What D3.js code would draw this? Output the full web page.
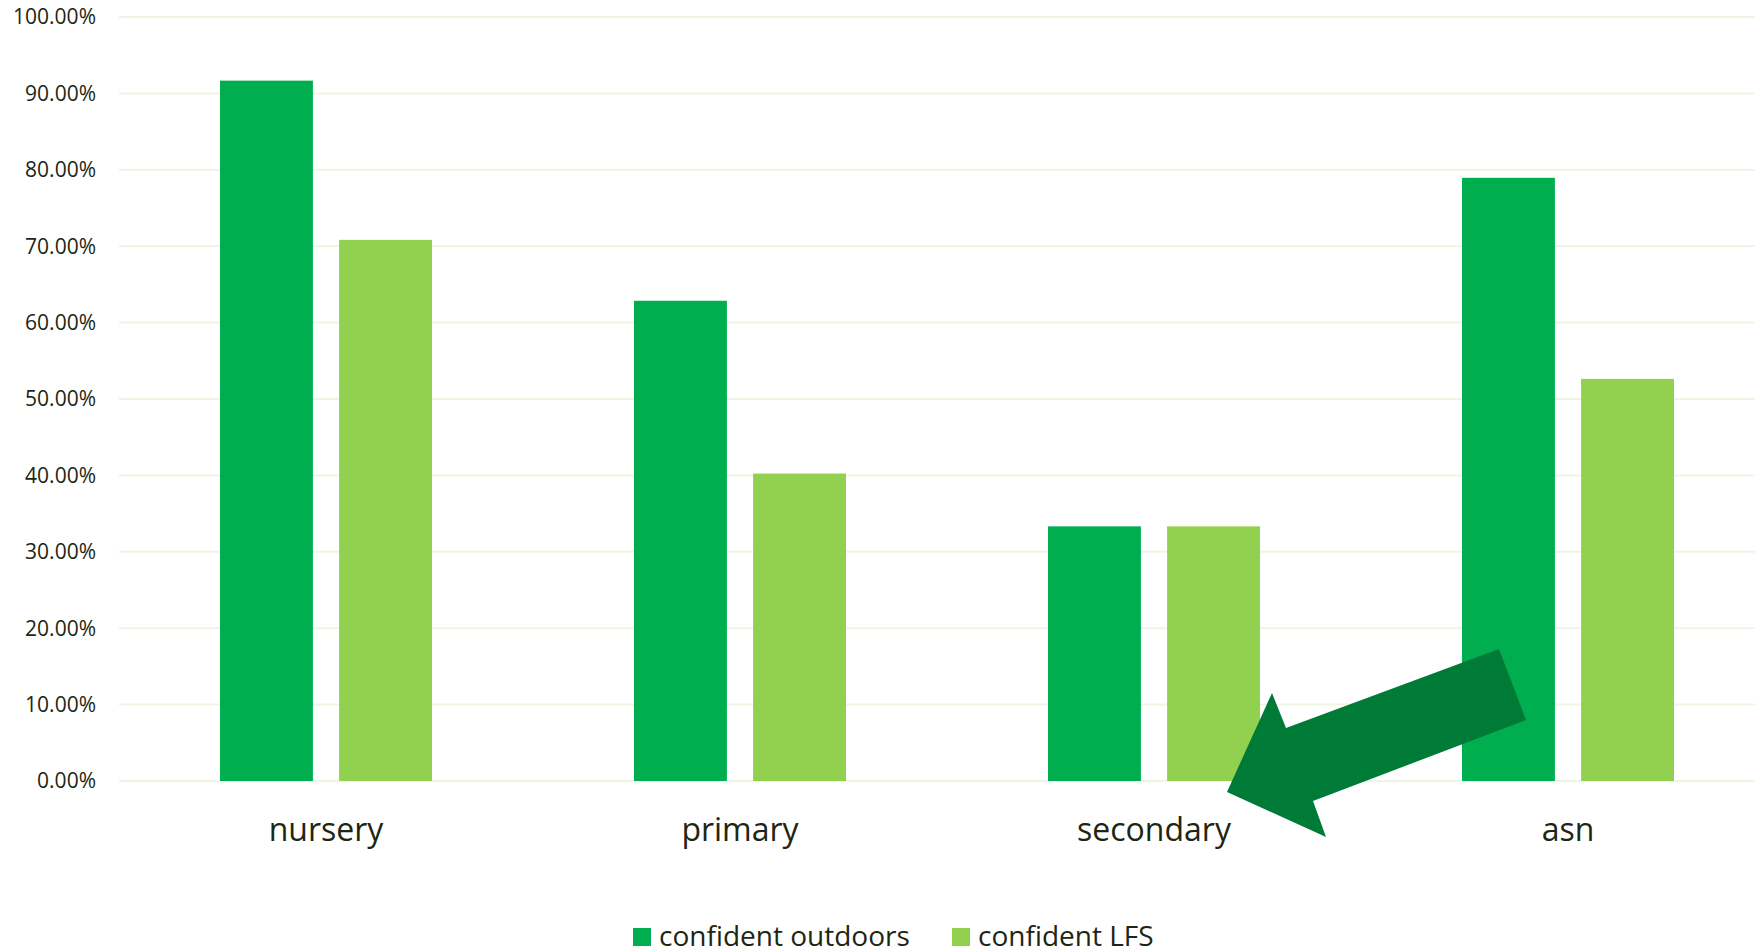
<!DOCTYPE html>
<html>
<head>
<meta charset="utf-8">
<script src="https://cdn.jsdelivr.net/npm/d3@7"></script>
<style>
	body { margin: 0; background: #fff; }
	text { font-family: "Open Sans", sans-serif; fill: #1e2613; }
</style>
</head>
<body>
<div id="chart"></div>
<script>
var categories = ["nursery", "primary", "secondary", "asn"];
var seriesNames = ["confident outdoors", "confident LFS"];
var outdoors = [0.9167, 0.6286, 0.3333, 0.7895];
var lfs = [0.7083, 0.4024, 0.3333, 0.5263];
var yTicks = [0, 0.1, 0.2, 0.3, 0.4, 0.5, 0.6, 0.7, 0.8, 0.9, 1.0];
var colors = ["#00ae4f", "#92d050"];
// arrow annotation (pixel points)
var arrowPts = [[1227,792],[1272,693],[1286,728],[1499,649],[1526,720],[1313,801],[1326,837]];

var width = 1755,
	height = 952;
var plotLeft = 119,
	plotTop = 17,
	plotBottom = 781;

var svg = d3.select("#chart")
	.append("svg")
	.attr("width", width)
	.attr("height", height);

var x = d3.scaleBand().domain(categories).range([plotLeft, plotLeft + 414 * 4]).paddingInner(0).paddingOuter(0);
var inner = d3.scaleBand().domain(seriesNames).range([101, 313]).paddingInner(0.22);
var y = d3.scaleLinear().domain([0, 1]).range([plotBottom, plotTop]);

// gridlines
svg.append("g")
	.selectAll("line")
	.data(yTicks)
	.enter().append("line")
	.attr("x1", plotLeft)
	.attr("x2", width)
	.attr("y1", function(d) { return y(d); })
	.attr("y2", function(d) { return y(d); })
	.attr("stroke", "#eef5e2")
	.attr("stroke-width", 2);

// y labels
svg.append("g")
	.selectAll("text")
	.data(yTicks)
	.enter().append("text")
	.attr("x", 96)
	.attr("y", function(d) { return y(d); })
	.attr("dy", "0.35em")
	.style("text-anchor", "end")
	.style("font-size", "21px")
	.text(function(d) { return (d * 100).toFixed(2) + "%"; });

// bars
var rows = categories.map(function(c, i) {
	return { cat: c, vals: [outdoors[i], lfs[i]] };
});

var groups = svg.append("g")
	.selectAll("g")
	.data(rows)
	.enter().append("g")
	.attr("transform", function(d) { return "translate(" + x(d.cat) + ",0)"; });

groups.selectAll("rect")
	.data(function(d) { return d.vals.map(function(v, j) { return { s: seriesNames[j], v: v, j: j }; }); })
	.enter().append("rect")
	.attr("x", function(d) { return inner(d.s); })
	.attr("width", inner.bandwidth())
	.attr("y", function(d) { return y(d.v); })
	.attr("height", function(d) { return y(0) - y(d.v); })
	.attr("fill", function(d) { return colors[d.j]; });

// category labels
svg.append("g")
	.selectAll("text")
	.data(categories)
	.enter().append("text")
	.attr("x", function(d) { return x(d) + x.bandwidth() / 2; })
	.attr("y", 841)
	.style("text-anchor", "middle")
	.style("font-size", "32px")
	.text(function(d) { return d; });

// arrow
svg.append("polygon")
	.attr("points", arrowPts.map(function(p) { return p.join(","); }).join(" "))
	.attr("fill", "#007a37");

// legend
var legendX = [633, 952];
var legend = svg.append("g")
	.selectAll("g")
	.data(seriesNames)
	.enter().append("g")
	.attr("transform", function(d, i) { return "translate(" + legendX[i] + ",928)"; });
legend.append("rect")
	.attr("width", 18)
	.attr("height", 18)
	.attr("fill", function(d, i) { return colors[i]; });
legend.append("text")
	.attr("x", 26)
	.attr("y", 18)
	.style("font-size", "28px")
	.text(function(d) { return d; });
</script>
</body>
</html>
